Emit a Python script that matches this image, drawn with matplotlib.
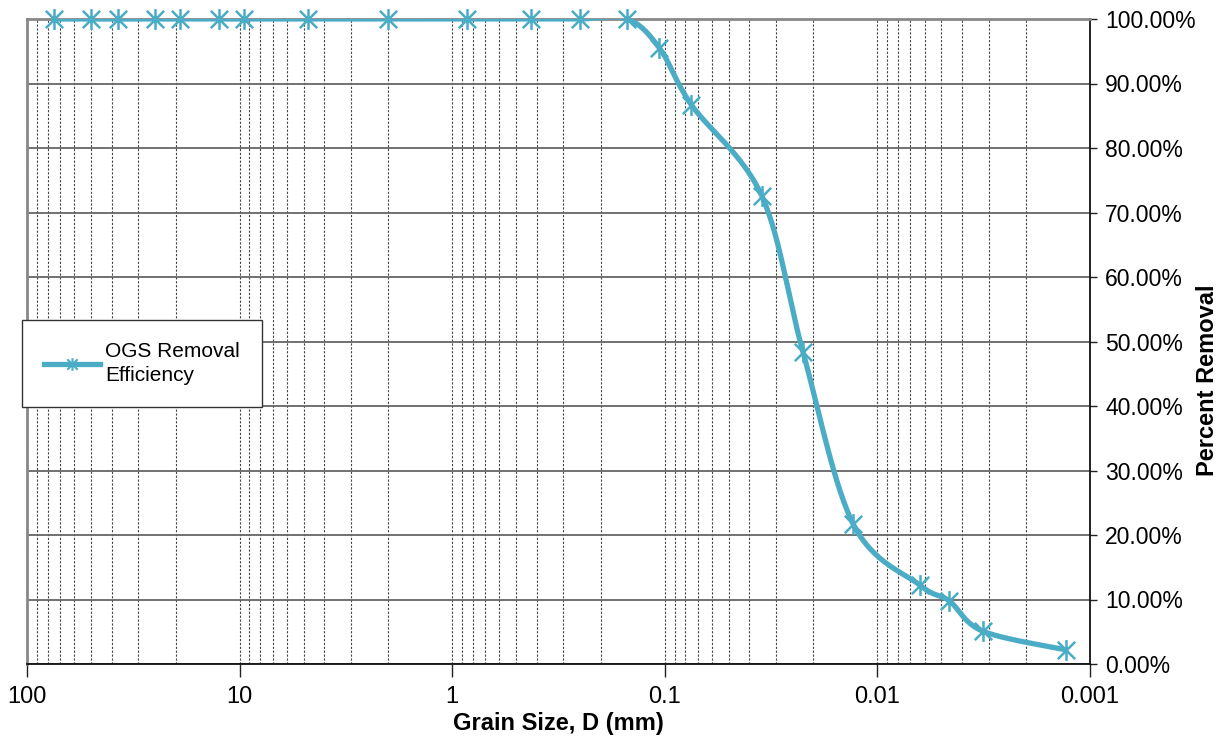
import matplotlib
matplotlib.use("Agg")
import matplotlib.pyplot as plt
import numpy as np
from matplotlib.path import Path
from matplotlib.ticker import FuncFormatter, LogLocator, NullFormatter, FixedLocator
from matplotlib.lines import Line2D

plt.rcParams['font.family'] = ['Liberation Sans', 'DejaVu Sans']

# Grain size (mm) and OGS removal efficiency
grain_size = [75, 50, 37.5, 25, 19, 12.5, 9.5, 4.75, 2.0, 0.85, 0.425, 0.25, 0.15,
              0.106, 0.075, 0.035, 0.0224, 0.013, 0.0063, 0.0046, 0.0032, 0.0013]
removal = [1.0, 1.0, 1.0, 1.0, 1.0, 1.0, 1.0, 1.0, 1.0, 1.0, 1.0, 1.0, 1.0,
           0.955, 0.867, 0.726, 0.484, 0.217, 0.122, 0.098, 0.051, 0.022]
x_ticks = [100, 10, 1, 0.1, 0.01, 0.001]
y_ticks = [0, 0.1, 0.2, 0.3, 0.4, 0.5, 0.6, 0.7, 0.8, 0.9, 1.0]

color = '#4BACC6'

# asterisk marker like Excel's (X plus vertical bar)
star = Path([(-1, -1), (1, 1), (-1, 1), (1, -1), (0, -1.2), (0, 1.2)],
            [Path.MOVETO, Path.LINETO, Path.MOVETO, Path.LINETO, Path.MOVETO, Path.LINETO])


def smooth(xs, ys, n=30):
    # Excel-style smoothed line (bezier through points), done in screen-like units
    u = np.log10(xs) * 212.6
    v = np.array(ys) * 645.0
    P = np.column_stack([u, v])
    out = [P[0]]
    t = np.linspace(0, 1, n)[1:, None]
    for i in range(len(P) - 1):
        p0 = P[i - 1] if i > 0 else P[i]
        p1, p2 = P[i], P[i + 1]
        p3 = P[i + 2] if i + 2 < len(P) else P[i + 1]
        b1 = p1 + (p2 - p0) / 6
        b2 = p2 - (p3 - p1) / 6
        seg = (1 - t) ** 3 * p1 + 3 * (1 - t) ** 2 * t * b1 + 3 * (1 - t) * t ** 2 * b2 + t ** 3 * p2
        out.extend(seg)
    out = np.array(out)
    return 10 ** (out[:, 0] / 212.6), out[:, 1] / 645.0


fig = plt.figure(figsize=(12.25, 7.4), dpi=100)
ax = fig.add_axes([27 / 1225, 1 - 664 / 740, (1090 - 27) / 1225, (664 - 19) / 740])

sx, sy = smooth(grain_size, removal)
ax.plot(sx, sy, color=color, lw=3.8, solid_capstyle='round', zorder=3)
ax.plot(grain_size, removal, linestyle='none', marker=star, markersize=15,
        markeredgewidth=1.8, markeredgecolor=color, zorder=4, clip_on=False)

ax.set_xscale('log')
ax.set_xlim(100, 0.001)
ax.set_ylim(0, 1)

ax.xaxis.set_major_locator(FixedLocator(x_ticks))
ax.xaxis.set_minor_locator(LogLocator(base=10, subs=np.arange(2, 10)))
ax.xaxis.set_minor_formatter(NullFormatter())
ax.xaxis.set_major_formatter(FuncFormatter(lambda v, p: '%g' % v))
ax.set_yticks(y_ticks)
ax.yaxis.set_major_formatter(FuncFormatter(lambda v, p: '%.2f%%' % (v * 100)))

ax.yaxis.tick_right()
ax.tick_params(axis='y', which='major', direction='out', length=5, width=1, pad=6,
               labelsize=16.5, color='#222222')
ax.tick_params(axis='x', which='major', direction='out', length=9, width=1, pad=7,
               labelsize=17, color='#222222')
ax.tick_params(axis='x', which='minor', length=0)

ax.grid(True, axis='x', which='both', linestyle=(0, (2, 1.5)), color='#444444', lw=0.8)
ax.grid(True, axis='y', which='major', linestyle='-', color='#666666', lw=1.3)
ax.set_axisbelow(True)

for side in ['left', 'top']:
    ax.spines[side].set_color('#888888')
    ax.spines[side].set_linewidth(2)
for side in ['right', 'bottom']:
    ax.spines[side].set_color('#111111')
    ax.spines[side].set_linewidth(1.3)

ax.set_xlabel('Grain Size, D (mm)', fontsize=17, fontweight='bold', labelpad=3)
fig.text(1208 / 1225, 1 - 380 / 740, 'Percent Removal', rotation=90, ha='center',
         va='center', fontsize=17, fontweight='bold')

handle = Line2D([], [], color=color, lw=3.8, marker=star, markersize=9,
                markeredgewidth=1.5, markeredgecolor=color)
leg = fig.legend([handle], ['OGS Removal\nEfficiency'], loc='upper left',
                 bbox_to_anchor=(22 / 1225, 1 - 320 / 740), fontsize=15,
                 fancybox=False, framealpha=1, edgecolor='#333333',
                 handlelength=2.7, borderpad=1.05, handletextpad=0.25,
                 borderaxespad=0)
leg.get_frame().set_linewidth(1)
leg.get_texts()[0].set_linespacing(1.35)

fig.savefig('out.png', dpi=100)
